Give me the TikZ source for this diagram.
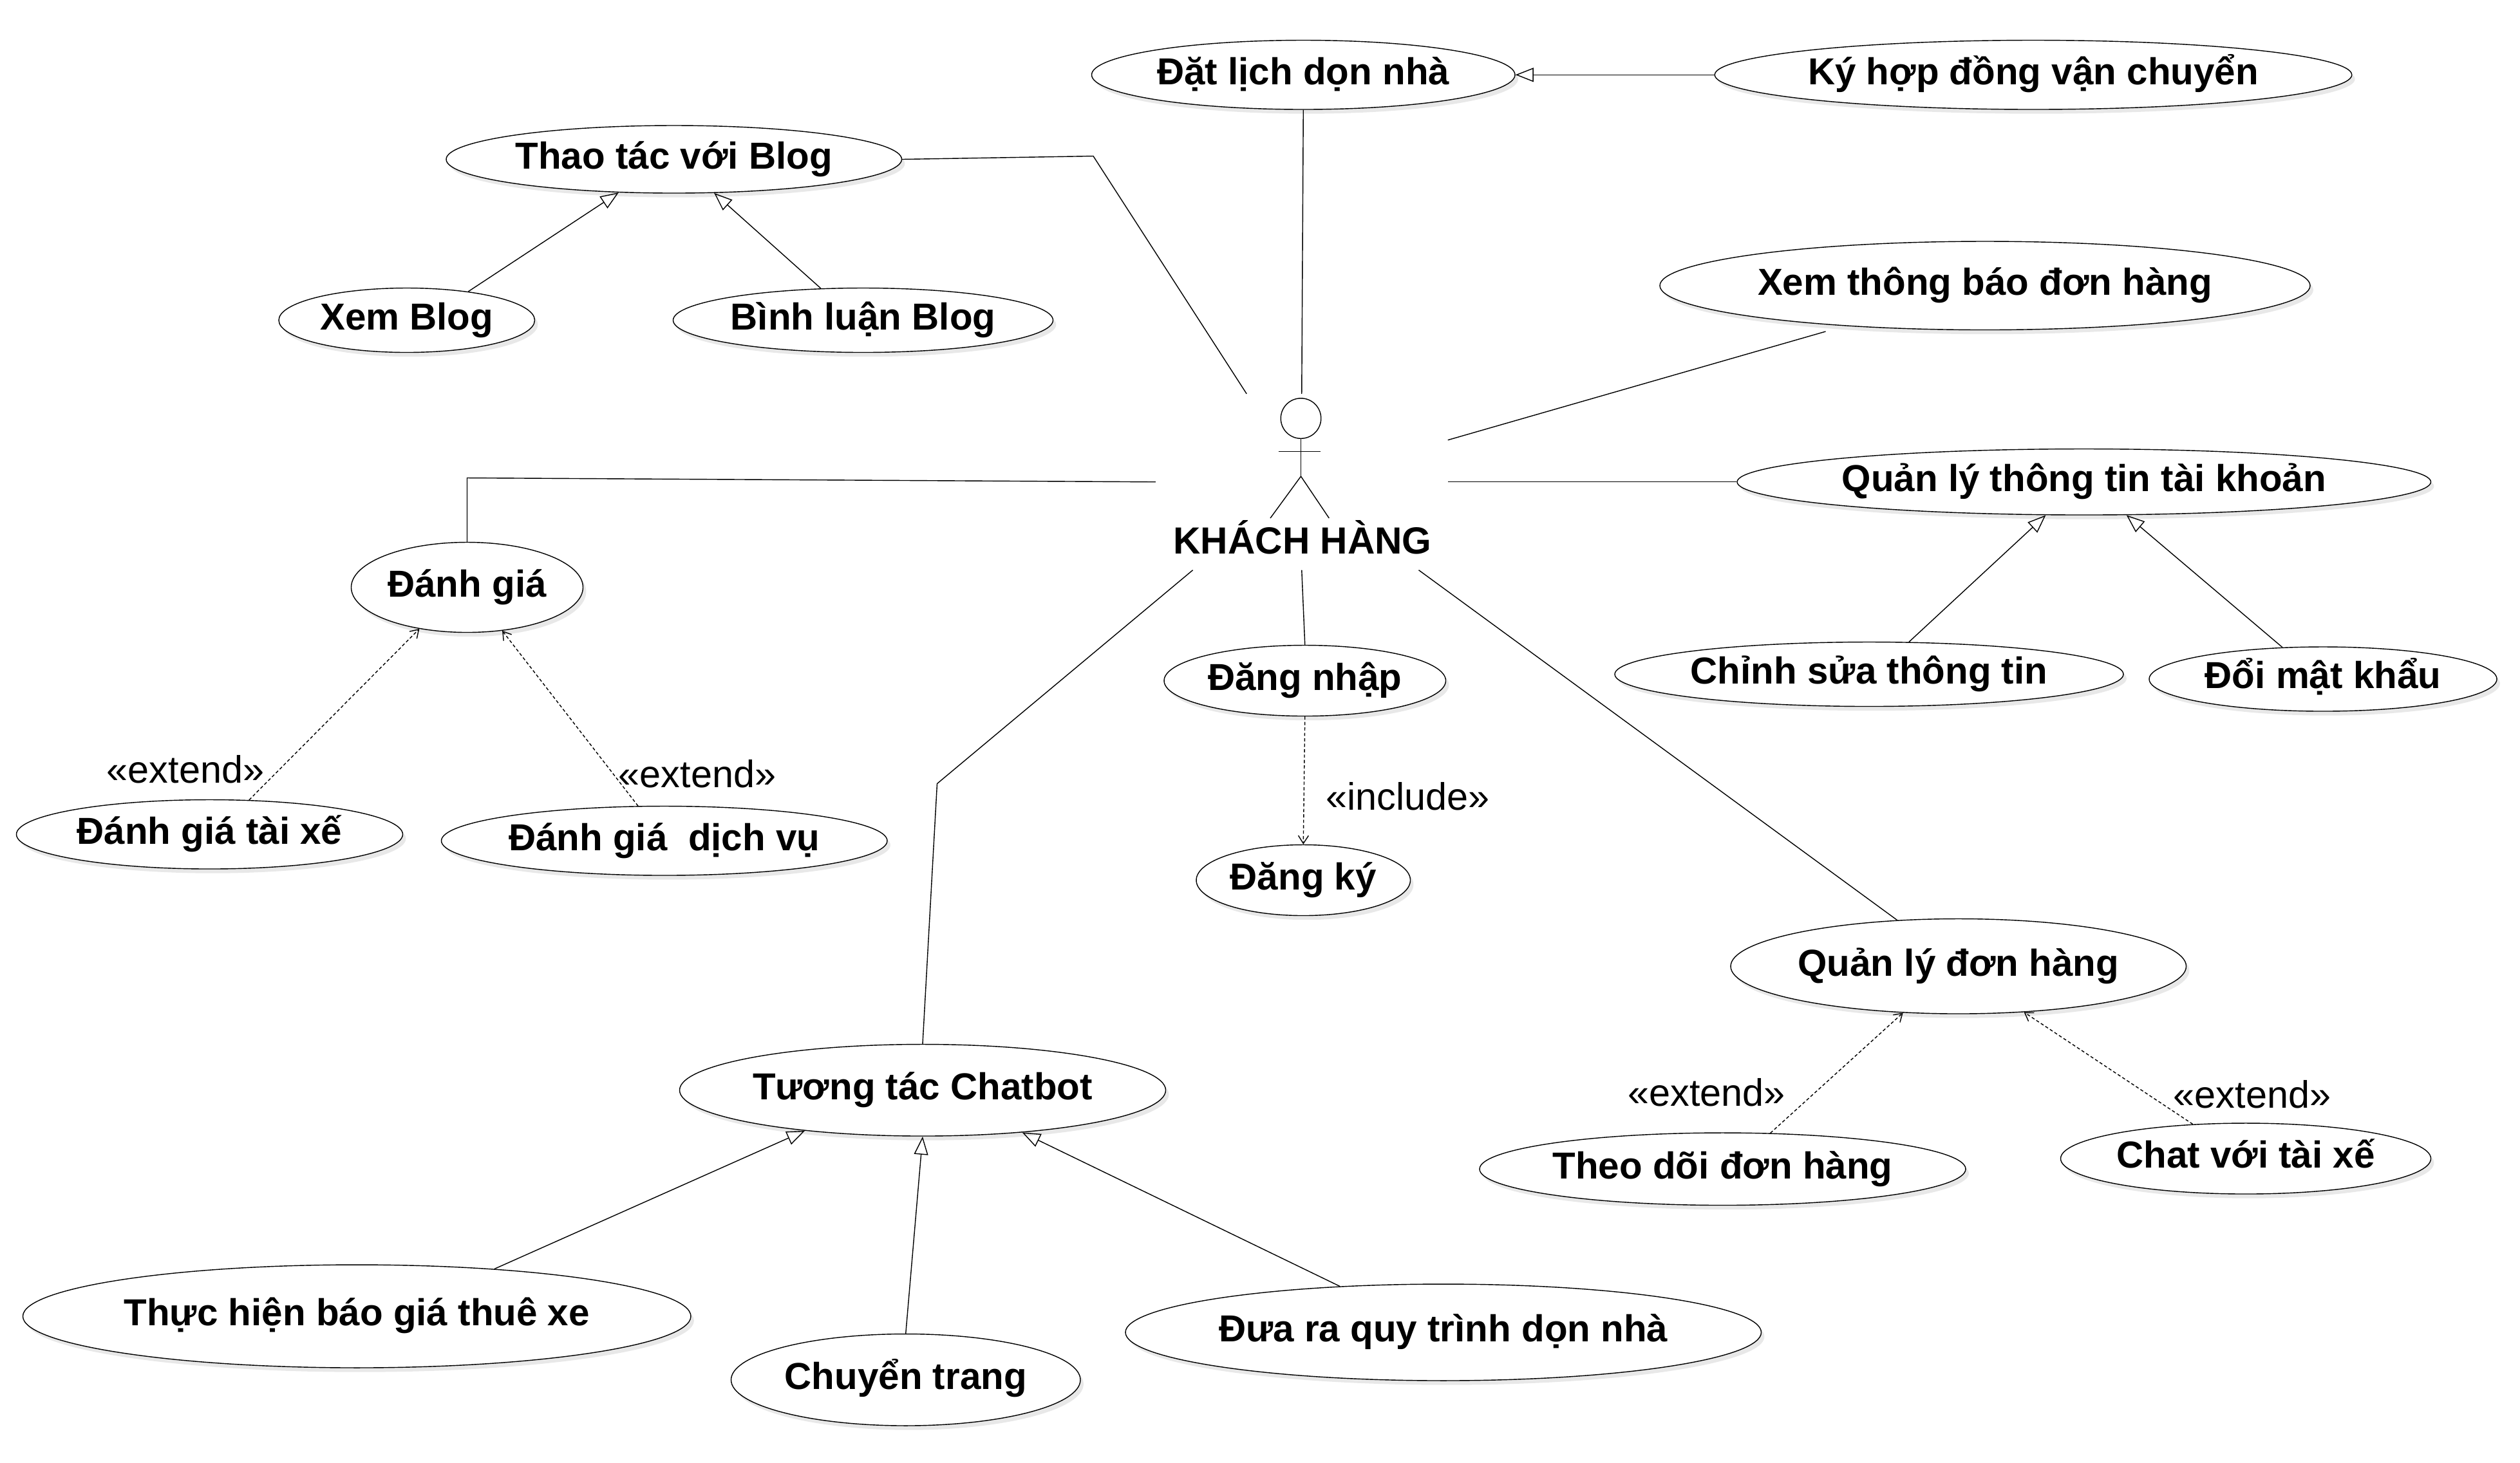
\documentclass[tikz,border=0pt]{standalone}
\usepackage{fontspec}
\setmainfont{Liberation Sans}
\usetikzlibrary{arrows.meta}
\usetikzlibrary{shapes.geometric,shadows}

\begin{document}
\begin{tikzpicture}[x=0.025cm, y=-0.025cm, line width=0.4pt,
			usecase/.style 2 args={ellipse, draw=black, fill=white, inner sep=0pt,
					minimum width=#1*0.025cm, minimum height=#2*0.025cm,
					text height=11.7pt, text depth=3.3pt,
					font=\fontsize{16.6}{18}\selectfont\bfseries,
					drop shadow={shadow xshift=1.4pt, shadow yshift=-1.9pt, fill=black!9, opacity=1}},
			stereo/.style={font=\fontsize{16.9}{18}\selectfont, inner sep=0pt},
			assoc/.style={draw=black},
			general/.style={draw=black, -{Triangle[open, length=8pt, width=6.2pt]}},
			depend/.style={draw=black, dash pattern=on 1.4pt off 1pt, -{Straight Barb[length=3.5pt, width=4.5pt]}},]
		\useasboundingbox (0.8,0) rectangle (1566.4,908.8);

		% actor
		\node (actor) [minimum width=181*0.025cm, minimum height=109*0.025cm, inner sep=0pt] at (809.5,299.5) {};
		\node (head) [circle, draw, inner sep=0pt, minimum size=25*0.025cm] at (809,260) {};
		\coordinate (hip) at (809,296);
		\coordinate (armL) at (795,280.5);
		\coordinate (armR) at (821,280.5);
		\coordinate (footL) at (790,322);
		\coordinate (footR) at (826.5,322);
		\draw (head.south) -- (hip);
		\draw (armL) -- (armR);
		\draw (footL) -- (hip) -- (footR);
		\node (actorname) [font=\fontsize{16.7}{19}\selectfont\bfseries, inner sep=0pt] at (810,334) {KHÁCH HÀNG};

		% use cases
		\node (datlich) [usecase={263}{43}] at (810.5,46.5) {Đặt lịch dọn nhà};
		\node (hopdong) [usecase={394}{43}] at (1264,46.5) {Ký hợp đồng vận chuyển};
		\node (blog) [usecase={283}{42}] at (419.5,99) {Thao tác với Blog};
		\node (xemblog) [usecase={159}{40}] at (253.5,199) {Xem Blog};
		\node (binhluan) [usecase={236}{40}] at (537,199) {Bình luận Blog};
		\node (thongbao) [usecase={404}{55}] at (1234,177.5) {Xem thông báo đơn hàng};
		\node (taikhoan) [usecase={431}{41}] at (1295.5,299.5) {Quản lý thông tin tài khoản};
		\node (chinhsua) [usecase={316}{40}] at (1162,419) {Chỉnh sửa thông tin};
		\node (matkhau) [usecase={216}{40}] at (1444,422) {Đổi mật khẩu};
		\node (danhgia) [usecase={144}{56}] at (291,365) {Đánh giá};
		\node (taixe) [usecase={240}{43}] at (131,518.5) {Đánh giá tài xế};
		\node (dichvu) [usecase={277}{43}] at (413.5,522.5) {Đánh giá \ dịch vụ};
		\node (dangnhap) [usecase={175}{44}] at (811.5,423) {Đăng nhập};
		\node (dangky) [usecase={133}{44}] at (810.5,547) {Đăng ký};
		\node (donhang) [usecase={283}{59}] at (1217.5,600.5) {Quản lý đơn hàng};
		\node (theodoi) [usecase={302}{45}] at (1071,726.5) {Theo dõi đơn hàng};
		\node (chat) [usecase={230}{44}] at (1396,720) {Chat với tài xế};
		\node (chatbot) [usecase={302}{57}] at (574,677.5) {Tương tác Chatbot};
		\node (baogia) [usecase={415}{64}] at (222.5,818) {Thực hiện báo giá thuê xe};
		\node (chuyentrang) [usecase={217}{57}] at (563.5,857.5) {Chuyển trang};
		\node (quytrinh) [usecase={395}{60}] at (897.5,828) {Đưa ra quy trình dọn nhà};

		% stereotypes
		\node (ext1) [stereo] at (116,478) {«extend»};
		\node (ext2) [stereo] at (434,481) {«extend»};
		\node (incl) [stereo] at (875.5,495) {«include»};
		\node (ext3) [stereo] at (1061,679) {«extend»};
		\node (ext4) [stereo] at (1400,680) {«extend»};

		% bend points
		\coordinate (bendblog) at (680,97);
		\coordinate (benddg) at (291,297);
		\coordinate (bendbot) at (583,487);
		\coordinate (endtb) at (1135,206);

		% actor links
		\draw [assoc] (blog.east) -- (bendblog) -- (actor.122.3);
		\draw [assoc] (datlich.south) -- (actor.north);
		\draw [assoc] (endtb) -- (actor.16.3);
		\draw [assoc] (taikhoan.west) -- (actor.east);
		\draw [assoc] (danhgia.north) -- (benddg) -- (actor.west);
		\draw [assoc] (chatbot.north) -- (bendbot) -- (actor.219.8);
		\draw [assoc] (actor.south) -- (dangnhap.north);
		\draw [assoc] (actor.323.8) -- (donhang.143.6);

		% generalisations
		\draw [general] (hopdong.west) -- (datlich.east);
		\draw [general] (xemblog.25) -- (blog.211);
		\draw [general] (binhluan.143.8) -- (blog.320.5);
		\draw [general] (chinhsua.39.8) -- (taikhoan.221);
		\draw [general] (matkhau.142.4) -- (taikhoan.322);
		\draw [general] (baogia.19.8) -- (chatbot.199.5);
		\draw [general] (chuyentrang.north) -- (chatbot.south);
		\draw [general] (quytrinh.156.6) -- (chatbot.337.3);

		% extend and include
		\draw [depend] (taixe.41.9) -- (danhgia.221.4);
		\draw [depend] (dichvu.127.5) -- (danhgia.309.5);
		\draw [depend] (dangnhap.south) -- (dangky.north);
		\draw [depend] (theodoi.37.8) -- (donhang.220.4);
		\draw [depend] (chat.147.7) -- (donhang.325.5);
	\end{tikzpicture}
\end{document}
